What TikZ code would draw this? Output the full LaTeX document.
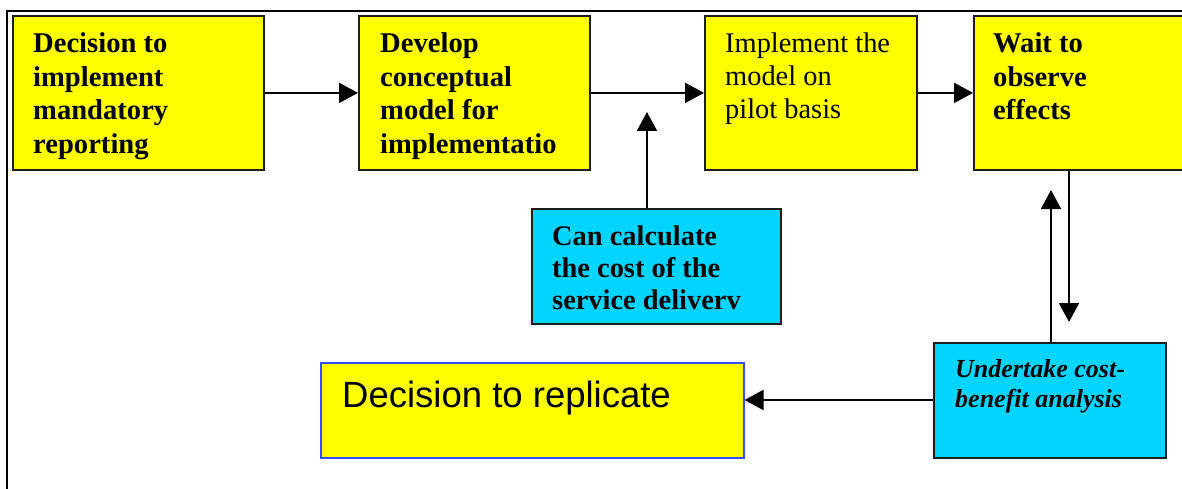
\documentclass[tikz,border=0pt]{standalone}
\usepackage{fontspec}
\setmainfont{Liberation Serif}
\newfontfamily\arialf{Liberation Sans}
\usetikzlibrary{arrows.meta}
\definecolor{boxyellow}{RGB}{255,255,0}
\definecolor{boxcyan}{RGB}{0,212,255}
\definecolor{boxedge}{RGB}{30,30,30}
\definecolor{blueedge}{RGB}{50,80,255}
\tikzset{
  box/.style={draw=boxedge, line width=1.8pt, inner sep=0pt, anchor=north west},
  ybox/.style={box, fill=boxyellow},
  cbox/.style={box, fill=boxcyan},
  txt/.style={inner sep=0pt, anchor=base west, align=left, font=\fontsize{28}{33.5}\selectfont},
  arr/.style={line width=2pt, -{Triangle[length=19pt,width=20pt]}},
}
\begin{document}
\begin{tikzpicture}[x=1pt,y=-1pt]
\useasboundingbox (0,0) rectangle (1182,489);
% outer frame (cropped)
\draw[line width=2.2pt] (7,489) -- (7,11) -- (1182,11);
% boxes
\node[ybox, minimum width=251pt, minimum height=154pt] (b1) at (12,15) {};
\node[ybox, minimum width=231pt, minimum height=154pt] (b2) at (358,15) {};
\node[ybox, minimum width=212pt, minimum height=154pt] (b3) at (704,15) {};
\node[ybox, minimum width=240pt, minimum height=154pt] (b4) at (973,15) {};
\node[cbox, minimum width=249pt, minimum height=115pt] (c1) at (531,208) {};
\node[cbox, minimum width=232pt, minimum height=115pt] (cb) at (933,342) {};
\node[ybox, draw=blueedge, line width=1.5pt, minimum width=423pt, minimum height=95pt] (rep) at (320,362) {};
% texts (anchored at the baseline of the last line)
\node[txt, font=\fontsize{28.6}{33.5}\selectfont\bfseries] (t1) at (33,153.5) {Decision to\\implement\\mandatory\\reporting};
\node[txt, font=\fontsize{28.6}{33.5}\selectfont\bfseries] (t2) at (380,153.5) {Develop\\conceptual\\model for\\implementatio};
\node[txt, font=\fontsize{28.4}{33}\selectfont] (t3) at (725,119) {Implement the\\model on\\pilot basis};
\node[txt, font=\fontsize{28.6}{33.5}\selectfont\bfseries] (t4) at (993,120) {Wait to\\observe\\effects};
\node[txt, font=\fontsize{28.4}{32}\selectfont\bfseries] (tc1) at (552,309) {Can calculate\\the cost of the\\service deliverv};
\node[txt, font=\fontsize{26}{30}\selectfont\bfseries\itshape] (tcb) at (955,407) {Undertake cost-\\benefit analysis};
\node[txt, font=\arialf\fontsize{36.5}{40}\selectfont] (trep) at (342,407) {Decision to replicate};
% connectors
\coordinate (p1) at (647,112);
\coordinate (p2) at (1069,322);
\coordinate (p3) at (1051,190);
\draw[arr] (b1.east) -- (b2.west);
\draw[arr] (b2.east) -- (b3.west);
\draw[arr] (b3.east) -- (b3.east -| b4.west);
\draw[arr] (c1.north -| p1) -- (p1);
\draw[arr] (b4.south -| p2) -- (p2);
\draw[arr] (cb.north -| p3) -- (p3);
\draw[arr] (cb.west |- 0,400) -- (rep.east |- 0,400);
\end{tikzpicture}
\end{document}
